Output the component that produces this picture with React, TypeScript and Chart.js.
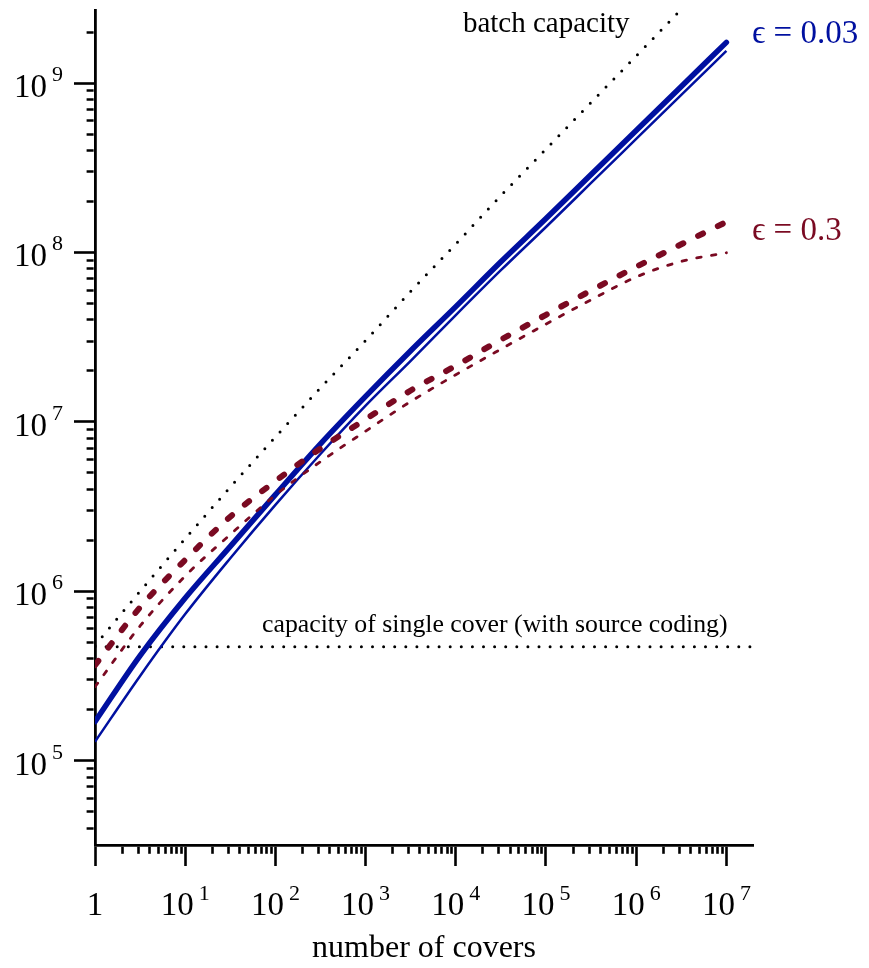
import React, { useEffect, useRef } from 'react';
import { Chart, registerables } from 'chart.js';

Chart.register(...registerables);

// ---- data ----
const covers = [1, 3.162, 10, 31.62, 100, 316.2, 1000, 3162, 1e4, 3.162e4, 1e5, 3.162e5, 1e6, 3.162e6, 1e7];

// epsilon = 0.03 (blue)
const blueThick = [1.698e5, 4.169e5, 9.12e5, 1.841e6, 3.715e6, 7.413e6, 1.413e7, 2.63e7, 4.786e7, 8.81e7, 1.585e8, 2.884e8, 5.248e8, 9.55e8, 1.738e9];
const blueThin = [1.294e5, 3.162e5, 7.328e5, 1.567e6, 3.236e6, 6.457e6, 1.245e7, 2.291e7, 4.266e7, 7.852e7, 1.413e8, 2.57e8, 4.677e8, 8.511e8, 1.549e9];

// epsilon = 0.3 (red)
const redThick = [3.664e5, 8.035e5, 1.531e6, 2.754e6, 4.467e6, 6.966e6, 1.035e7, 1.531e7, 2.143e7, 3.055e7, 4.285e7, 5.957e7, 8.222e7, 1.117e8, 1.514e8];
const redThin = [2.729e5, 6.237e5, 1.23e6, 2.163e6, 3.69e6, 5.821e6, 8.81e6, 1.318e7, 1.897e7, 2.685e7, 3.776e7, 5.248e7, 7.161e7, 8.851e7, 9.954e7];

// batch capacity (black dotted)
const batchCovers = [1, 3.162, 10, 31.62, 100, 316.2, 1000, 3162, 1e4, 3.162e4, 1e5, 3.162e5, 1e6, 3.162e6];
const batchCapacity = [4.786e5, 1.0e6, 2.042e6, 4.121e6, 8.128e6, 1.585e7, 3.02e7, 5.888e7, 1.122e8, 2.163e8, 4.074e8, 7.674e8, 1.445e9, 2.723e9];

// capacity of single cover (horizontal dotted)
const singleCovers = [1, 1.95e7];
const singleCapacity = [4.7e5, 4.7e5];

// axes
const xMin = 1;
const xMax = 1.972e7;
const yMin = 31770;
const yMax = 2.698e9;
const tickMultipliers = [1, 2, 3, 4, 5, 6, 7, 8, 9];
const xDecades = [1, 10, 100, 1000, 1e4, 1e5, 1e6, 1e7];
const xTickBases = ['1', '10', '10', '10', '10', '10', '10', '10'];
const xTickExps = ['', '1', '2', '3', '4', '5', '6', '7'];
const yTickDecades = [1e4, 1e5, 1e6, 1e7, 1e8, 1e9];
const yLabelValues = [1e5, 1e6, 1e7, 1e8, 1e9];
const yTickBases = ['10', '10', '10', '10', '10'];
const yTickExps = ['5', '6', '7', '8', '9'];

// annotations (anchored in data coordinates)
const annotations = [
  { text: 'batch capacity', x: 1.2e4, y: 2.01e9, color: '#000000', size: 29 },
  { text: 'capacity of single cover (with source coding)', x: 71, y: 5.78e5, color: '#000000', size: 25.8 },
  { text: 'ϵ = 0.03', x: 1.92e7, y: 1.72e9, color: '#0010a0', size: 33 },
  { text: 'ϵ = 0.3', x: 1.92e7, y: 1.18e8, color: '#7a0a22', size: 33 },
];

const BLUE = '#0010a0';
const RED = '#7a0a22';
const FONT = '"Liberation Serif", "DejaVu Serif", serif';

function buildTicks(decades: number[], min: number, max: number) {
  const out: { value: number; major: boolean }[] = [];
  decades.forEach((d) => {
    tickMultipliers.forEach((m) => {
      const v = d * m;
      if (v >= min * 0.9999 && v <= max * 1.0001) out.push({ value: v, major: m === 1 });
    });
  });
  return out;
}

const pts = (xs: number[], ys: number[]) => xs.map((x, i) => ({ x, y: ys[i] }));

const labelPlugin = {
  id: 'superscriptLabels',
  afterDraw(chart: any) {
    const ctx = chart.ctx as CanvasRenderingContext2D;
    const xs = chart.scales.x;
    const ys = chart.scales.y;
    ctx.save();
    ctx.textBaseline = 'alphabetic';
    ctx.fillStyle = '#000';
    const big = `33px ${FONT}`;
    const small = `22px ${FONT}`;
    // x tick labels
    xDecades.forEach((v, i) => {
      const px = xs.getPixelForValue(v);
      const base = xTickBases[i];
      const exp = xTickExps[i];
      const baseY = xs.top + 70;
      if (!exp) {
        ctx.font = big;
        ctx.textAlign = 'center';
        ctx.fillText(base, px, baseY);
        return;
      }
      ctx.font = big;
      const w1 = ctx.measureText(base).width;
      ctx.font = small;
      const w2 = ctx.measureText(exp).width;
      const gap = 5;
      const left = px - (w1 + gap + w2) / 2;
      ctx.textAlign = 'left';
      ctx.font = big;
      ctx.fillText(base, left, baseY);
      ctx.font = small;
      ctx.fillText(exp, left + w1 + gap, baseY - 15);
    });
    // y tick labels
    yLabelValues.forEach((v, i) => {
      const py = ys.getPixelForValue(v);
      const right = ys.right - 32;
      ctx.font = small;
      const w2 = ctx.measureText(yTickExps[i]).width;
      ctx.textAlign = 'right';
      ctx.fillText(yTickExps[i], right, py - 2);
      ctx.font = big;
      ctx.fillText(yTickBases[i], right - w2 - 5, py + 14);
    });
    // annotations
    annotations.forEach((a) => {
      ctx.font = `${a.size}px ${FONT}`;
      ctx.fillStyle = a.color;
      ctx.textAlign = 'left';
      ctx.fillText(a.text, xs.getPixelForValue(a.x), ys.getPixelForValue(a.y));
    });
    ctx.restore();
  },
};

export default function App() {
  const ref = useRef<HTMLCanvasElement | null>(null);

  useEffect(() => {
    document.body.style.margin = '0';
    const canvas = ref.current;
    if (!canvas) return;
    const xTicks = buildTicks(xDecades, xMin, xMax);
    const yTicks = buildTicks(yTickDecades, yMin, yMax);

    const chart = new Chart(canvas, {
      type: 'line',
      data: {
        datasets: [
          {
            label: 'ϵ = 0.3 (thick)',
            data: pts(covers, redThick),
            borderColor: RED,
            borderWidth: 6,
            borderDash: [5.5, 16.5],
            borderCapStyle: 'round',
            pointRadius: 0,
            fill: false,
            cubicInterpolationMode: 'monotone',
          },
          {
            label: 'ϵ = 0.3 (thin)',
            data: pts(covers, redThin),
            borderColor: RED,
            borderWidth: 2.8,
            borderDash: [4.5, 10.5],
            borderCapStyle: 'round',
            pointRadius: 0,
            fill: false,
            cubicInterpolationMode: 'monotone',
          },
          {
            label: 'ϵ = 0.03 (thick)',
            data: pts(covers, blueThick),
            borderColor: BLUE,
            borderWidth: 5.5,
            borderCapStyle: 'round',
            pointRadius: 0,
            fill: false,
            cubicInterpolationMode: 'monotone',
          },
          {
            label: 'ϵ = 0.03 (thin)',
            data: pts(covers, blueThin),
            borderColor: BLUE,
            borderWidth: 2.5,
            pointRadius: 0,
            fill: false,
            cubicInterpolationMode: 'monotone',
          },
          {
            label: 'batch capacity',
            data: pts(batchCovers, batchCapacity),
            borderColor: '#000',
            borderWidth: 3,
            borderDash: [0, 11.3],
            borderCapStyle: 'round',
            pointRadius: 0,
            fill: false,
            cubicInterpolationMode: 'monotone',
          },
          {
            label: 'capacity of single cover',
            data: pts(singleCovers, singleCapacity),
            borderColor: '#000',
            borderWidth: 3,
            borderDash: [0, 11.1],
            borderCapStyle: 'round',
            pointRadius: 0,
            fill: false,
          },
        ] as any,
      },
      options: {
        animation: false,
        responsive: false,
        maintainAspectRatio: false,
        layout: { padding: { left: 0, right: 116, top: 10, bottom: 0 } },
        plugins: {
          legend: { display: false },
          tooltip: { enabled: false },
        },
        scales: {
          x: {
            type: 'logarithmic',
            min: xMin,
            max: xMax,
            afterBuildTicks: (s: any) => {
              s.ticks = xTicks.map((t) => ({ ...t }));
            },
            afterFit: (s: any) => {
              s.height = 123;
            },
            ticks: { display: false, autoSkip: false },
            grid: {
              display: true,
              drawOnChartArea: false,
              drawTicks: true,
              tickLength: 21,
              tickWidth: 2.6,
              tickColor: '#000',
              tickBorderDash: (c: any) => (c.tick && c.tick.major ? [] : [7, 100]),
            } as any,
            border: { display: true, color: '#000', width: 2.8 },
            title: {
              display: true,
              text: 'number of covers',
              color: '#000',
              font: { family: FONT, size: 32 },
              padding: { top: 0, bottom: 0 },
            },
          },
          y: {
            type: 'logarithmic',
            min: yMin,
            max: yMax,
            afterBuildTicks: (s: any) => {
              s.ticks = yTicks.map((t) => ({ ...t }));
            },
            afterFit: (s: any) => {
              s.width = 95;
            },
            ticks: { display: false, autoSkip: false },
            grid: {
              display: true,
              drawOnChartArea: false,
              drawTicks: true,
              tickLength: 21,
              tickWidth: 2.6,
              tickColor: '#000',
              tickBorderDash: (c: any) => (c.tick && c.tick.major ? [] : [0, 12.6, 7, 100]),
            } as any,
            border: { display: true, color: '#000', width: 2.8 },
          },
        },
      } as any,
      plugins: [labelPlugin],
    });

    return () => chart.destroy();
  }, []);

  return (
    <div style={{ width: 869, height: 968 }}>
      <canvas ref={ref} width={869} height={968} style={{ display: 'block' }} />
    </div>
  );
}
